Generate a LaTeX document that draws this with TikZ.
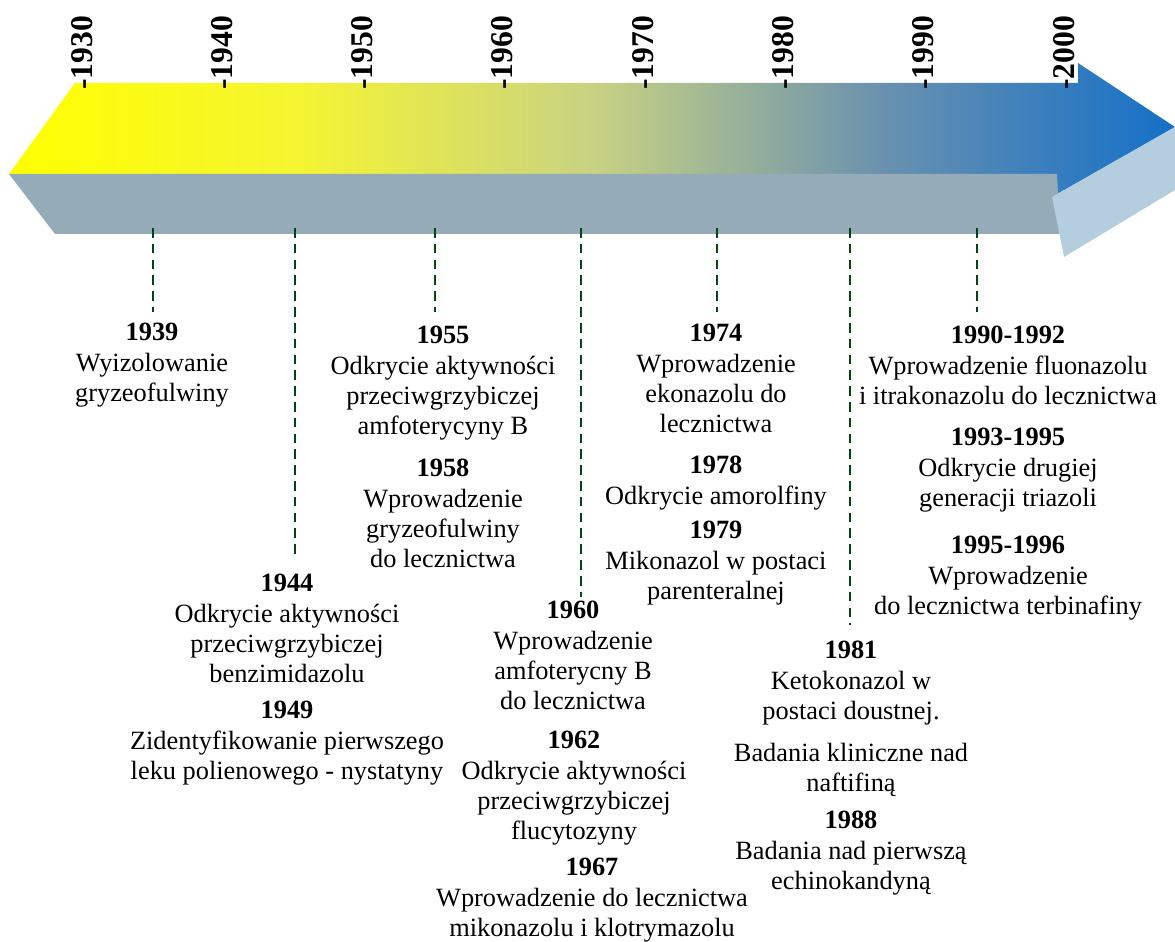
\documentclass[tikz,border=0pt]{standalone}
\usepackage{fontspec}
\setmainfont{Liberation Serif}
\usepackage{xcolor}
\definecolor{bandA}{RGB}{255,255,0}
\definecolor{bandB}{RGB}{244,244,50}
\definecolor{bandC}{RGB}{200,210,130}
\definecolor{bandD}{RGB}{105,145,175}
\definecolor{bandE}{RGB}{20,112,200}
\definecolor{bandgray}{RGB}{149,172,184}
\definecolor{headblue}{RGB}{180,206,224}
\definecolor{leadgreen}{RGB}{0,70,20}
\pgfdeclarehorizontalshading{timeband}{100bp}{color(0bp)=(bandA); color(25bp)=(bandA);
  color(37.5bp)=(bandB); color(50bp)=(bandC); color(62.5bp)=(bandD); color(75bp)=(bandE);
  color(100bp)=(bandE)}
\tikzset{
  every picture/.style={line join=round},
  event/.style={align=center, inner sep=0pt, anchor=north, font=\fontsize{15}{17.2}\selectfont},
  decade/.style={rotate=90, anchor=base west, inner sep=0pt, font=\fontsize{18}{20}\selectfont\bfseries},
  lead/.style={draw=leadgreen, line width=1.6pt, dash pattern=on 5.5pt off 3.5pt},
}

\begin{document}
\begin{tikzpicture}[x=0.02cm,y=-0.02cm]
\useasboundingbox (0,0) rectangle (1175,942);
% the arrow
\shade[shading=timeband] (9,174) -- (75,83) -- (1078,83) -- (1078,63) -- (1175,127)
  -- (1052,197) -- (1057,174) -- cycle;
\fill[bandgray] (9,174) -- (1057,174) -- (1060,234) -- (55,234) -- cycle;
\fill[headblue] (1052,197) -- (1175,127) -- (1175,190) -- (1064,257) -- cycle;
% decades
\foreach \d [count=\i from 0] in {1930,1940,...,2000}
  \node[decade] (d\d) at (92+140.3*\i,90) {-\d};
% leaders
\foreach \x/\y/\n in {153/312/1939,295/555/1944,435/312/1955,581/597/1960,
                      717/312/1974,850/625/1981,977/312/1990}{
  \coordinate (top\n) at (\x,228);
  \coordinate (end\n) at (\x,\y);
  \draw[lead] (top\n) -- (end\n);
}
% events
\node[event] (e1939) at (152,323) {\textbf{1939}\\Wyizolowanie\\gryzeofulwiny};
\node[event] (e1944) at (287,574) {\textbf{1944}\\Odkrycie aktywności\\przeciwgrzybiczej\\benzimidazolu};
\node[event] (e1949) at (287,701) {\textbf{1949}\\Zidentyfikowanie pierwszego\\leku polienowego - nystatyny};
\node[event] (e1955) at (443,326) {\textbf{1955}\\Odkrycie aktywności\\przeciwgrzybiczej\\amfoterycyny B};
\node[event] (e1958) at (443,459) {\textbf{1958}\\Wprowadzenie\\gryzeofulwiny\\do lecznictwa};
\node[event] (e1960) at (573,601) {\textbf{1960}\\Wprowadzenie\\amfoterycny B\\do lecznictwa};
\node[event] (e1962) at (574,731) {\textbf{1962}\\Odkrycie aktywności\\przeciwgrzybiczej\\flucytozyny};
\node[event] (e1967) at (592,858) {\textbf{1967}\\Wprowadzenie do lecznictwa\\mikonazolu i klotrymazolu};
\node[event] (e1974) at (716,324) {\textbf{1974}\\Wprowadzenie\\ekonazolu do\\lecznictwa};
\node[event] (e1978) at (716,456) {\textbf{1978}\\Odkrycie amorolfiny};
\node[event] (e1979) at (716,521) {\textbf{1979}\\Mikonazol w postaci\\parenteralnej};
\node[event] (e1981) at (851,641) {\textbf{1981}\\Ketokonazol w\\postaci doustnej.};
\node[event] (e1981b) at (851,743) {Badania kliniczne nad\\naftifiną};
\node[event] (e1988) at (851,811) {\textbf{1988}\\Badania nad pierwszą\\echinokandyną};
\node[event] (e1990) at (1008,326) {\textbf{1990-1992}\\Wprowadzenie fluonazolu\\i itrakonazolu do lecznictwa};
\node[event] (e1993) at (1008,428) {\textbf{1993-1995}\\Odkrycie drugiej\\generacji triazoli};
\node[event] (e1995) at (1008,536) {\textbf{1995-1996}\\Wprowadzenie\\do lecznictwa terbinafiny};
\end{tikzpicture}
\end{document}
